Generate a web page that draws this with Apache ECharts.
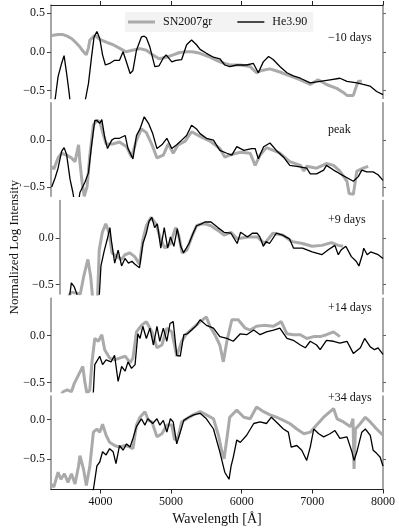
<!DOCTYPE html>
<html>
<head>
<meta charset="utf-8">
<script src="https://cdn.jsdelivr.net/npm/echarts@6/dist/echarts.min.js"></script>
<style>
html, body { margin: 0; padding: 0; background: #fff; }
#chart { width: 399px; height: 532px; }
</style>
</head>
<body>
<div id="chart"></div>
<script>
// spectra: [wavelength (A), normalized log intensity]
const sn_m10 = [[3310,0.21],[3400,0.22],[3470,0.22],[3530,0.2],[3590,0.17],[3650,0.12],[3710,0.06],[3760,0.0],[3800,-0.04],[3830,0.05],[3850,0.15],[3920,0.21],[3990,0.16],[4090,0.12],[4180,0.09],[4280,0.04],[4360,0.0],[4450,0.02],[4560,0.04],[4650,0.02],[4740,-0.04],[4830,-0.09],[4930,-0.07],[5030,-0.04],[5120,-0.01],[5220,0.0],[5300,0.0],[5410,-0.02],[5550,-0.07],[5690,-0.13],[5830,-0.17],[5980,-0.17],[6120,-0.19],[6210,-0.27],[6280,-0.24],[6400,-0.22],[6540,-0.26],[6680,-0.31],[6830,-0.36],[6970,-0.42],[7080,-0.36],[7200,-0.42],[7345,-0.47],[7450,-0.53],[7490,-0.56],[7580,-0.56],[7620,-0.45],[7650,-0.38],[7700,-0.38]];
const he_m10 = [[3310,-0.75],[3360,-0.6],[3400,-0.32],[3450,-0.15],[3485,-0.05],[3520,-0.27],[3560,-0.55],[3580,-0.75],[3760,-0.75],[3790,-0.6],[3830,-0.41],[3875,-0.06],[3910,0.19],[3950,0.26],[3990,0.17],[4030,-0.04],[4070,-0.17],[4130,-0.15],[4200,-0.11],[4270,-0.11],[4320,0.0],[4360,-0.11],[4420,-0.28],[4460,-0.24],[4510,0.02],[4580,0.19],[4620,0.2],[4650,0.18],[4700,0.06],[4770,-0.19],[4830,-0.18],[4890,-0.08],[4930,-0.04],[5010,-0.13],[5070,-0.11],[5150,-0.1],[5220,0.09],[5290,0.15],[5360,0.09],[5410,0.03],[5500,-0.02],[5600,-0.07],[5690,-0.09],[5760,-0.17],[5830,-0.19],[5930,-0.17],[6070,-0.17],[6165,-0.15],[6235,-0.27],[6305,-0.13],[6380,-0.06],[6445,-0.1],[6540,-0.19],[6640,-0.27],[6730,-0.31],[6830,-0.34],[6970,-0.4],[7110,-0.38],[7250,-0.36],[7390,-0.34],[7490,-0.38],[7630,-0.4],[7720,-0.42],[7815,-0.44],[7910,-0.51],[8000,-0.55]];

const sn_peak = [[3310,-0.28],[3340,-0.31],[3400,-0.19],[3450,-0.14],[3520,-0.16],[3590,-0.19],[3640,-0.23],[3690,-0.05],[3710,-0.24],[3740,-0.45],[3770,-0.6],[3810,-0.5],[3850,-0.16],[3900,0.16],[3950,0.21],[3990,0.2],[4030,0.09],[4080,-0.04],[4180,-0.04],[4270,-0.02],[4370,-0.07],[4440,-0.18],[4510,0.0],[4580,0.12],[4650,0.08],[4730,-0.05],[4800,-0.19],[4890,-0.16],[4960,-0.04],[5030,-0.14],[5100,-0.05],[5200,-0.01],[5290,0.09],[5410,0.04],[5550,-0.01],[5690,-0.09],[5760,-0.18],[5830,-0.16],[5980,-0.13],[6120,-0.14],[6190,-0.27],[6260,-0.16],[6350,-0.08],[6450,-0.11],[6540,-0.14],[6680,-0.23],[6830,-0.27],[6880,-0.33],[6920,-0.28],[7060,-0.3],[7200,-0.25],[7300,-0.27],[7390,-0.33],[7490,-0.44],[7520,-0.57],[7580,-0.58],[7630,-0.33],[7720,-0.3],[7790,-0.28]];
const he_peak = [[3310,-0.5],[3360,-0.4],[3400,-0.3],[3450,-0.12],[3485,-0.08],[3520,-0.15],[3570,-0.42],[3610,-0.56],[3640,-0.7],[3680,-0.7],[3710,-0.56],[3780,-0.45],[3830,-0.35],[3875,-0.05],[3920,0.21],[3950,0.21],[3990,0.18],[4020,0.22],[4060,0.03],[4100,-0.09],[4160,0.0],[4200,0.02],[4270,0.02],[4350,0.05],[4390,-0.09],[4460,-0.2],[4510,0.05],[4560,0.12],[4620,0.25],[4680,0.18],[4740,0.07],[4800,-0.09],[4870,-0.05],[4940,0.02],[5010,-0.09],[5080,-0.05],[5150,0.0],[5220,0.05],[5290,0.16],[5360,0.12],[5410,0.07],[5500,0.02],[5600,0.0],[5690,-0.11],[5790,-0.14],[5860,-0.16],[5930,-0.07],[6030,-0.11],[6140,-0.09],[6190,-0.09],[6235,-0.2],[6310,-0.07],[6400,-0.03],[6490,-0.11],[6590,-0.18],[6680,-0.27],[6780,-0.28],[6920,-0.3],[6970,-0.36],[7060,-0.36],[7160,-0.32],[7200,-0.27],[7300,-0.32],[7390,-0.36],[7510,-0.41],[7580,-0.44],[7650,-0.39],[7700,-0.32],[7770,-0.34],[7860,-0.34],[7930,-0.37],[8000,-0.43]];

const sn_p9 = [[3430,-0.62],[3470,-0.58],[3600,-0.6],[3650,-0.41],[3710,-0.23],[3750,-0.41],[3780,-0.65],[3850,-0.65],[3875,-0.13],[3920,0.06],[3970,0.15],[4020,0.05],[4060,-0.16],[4130,-0.2],[4200,-0.23],[4250,-0.18],[4320,-0.16],[4390,-0.2],[4460,-0.28],[4510,-0.02],[4560,0.13],[4630,0.22],[4700,0.15],[4770,-0.02],[4830,-0.11],[4910,-0.06],[4985,0.11],[5030,0.03],[5080,-0.16],[5150,-0.13],[5220,0.01],[5290,0.13],[5360,0.15],[5410,0.15],[5500,0.13],[5600,0.08],[5690,0.03],[5790,0.06],[5880,-0.01],[6030,0.01],[6170,0.01],[6280,-0.06],[6400,0.05],[6540,0.03],[6680,-0.04],[6830,-0.06],[6970,-0.09],[7110,-0.08],[7250,-0.05],[7350,-0.08],[7420,-0.09]];
const he_p9 = [[3440,-0.65],[3470,-0.48],[3510,-0.52],[3550,-0.6],[3580,-0.7],[3870,-0.7],[3900,-0.3],[3950,-0.13],[3990,-0.02],[4030,0.11],[4050,-0.02],[4100,-0.27],[4150,-0.13],[4200,-0.3],[4250,-0.22],[4300,-0.27],[4350,-0.25],[4390,-0.28],[4460,-0.32],[4510,-0.06],[4560,0.05],[4600,0.18],[4640,0.22],[4680,0.11],[4720,0.15],[4770,-0.11],[4820,0.11],[4870,-0.11],[4910,0.01],[4960,-0.09],[5010,0.1],[5060,-0.09],[5100,-0.16],[5180,-0.06],[5240,0.05],[5290,0.13],[5360,0.15],[5410,0.17],[5500,0.17],[5600,0.11],[5690,0.06],[5790,0.05],[5880,-0.06],[5930,0.06],[6030,0.01],[6100,0.05],[6170,0.05],[6210,0.01],[6260,-0.09],[6300,-0.04],[6350,-0.06],[6450,0.05],[6540,0.03],[6640,-0.01],[6700,-0.11],[6830,-0.11],[6970,-0.15],[7110,-0.18],[7200,-0.13],[7300,-0.08],[7350,-0.18],[7390,-0.13],[7460,-0.09],[7540,-0.2],[7610,-0.25],[7650,-0.3],[7700,-0.18],[7720,-0.11],[7770,-0.18],[7820,-0.15],[7860,-0.16],[7930,-0.18],[8000,-0.22]];

const sn_p14 = [[3430,-0.65],[3470,-0.6],[3530,-0.58],[3590,-0.6],[3630,-0.51],[3690,-0.42],[3750,-0.33],[3780,-0.5],[3810,-0.62],[3850,-0.58],[3880,-0.28],[3920,-0.03],[3970,-0.06],[4020,0.01],[4060,-0.15],[4130,-0.24],[4200,-0.26],[4270,-0.24],[4350,-0.22],[4420,-0.29],[4460,-0.24],[4510,0.04],[4580,0.11],[4650,0.15],[4730,0.04],[4800,-0.13],[4870,-0.1],[4940,0.08],[5010,0.04],[5080,-0.22],[5150,-0.06],[5220,0.02],[5310,0.08],[5410,0.15],[5500,0.2],[5550,0.1],[5620,0.01],[5690,-0.1],[5740,-0.28],[5790,-0.06],[5860,0.17],[5950,0.17],[6050,0.08],[6120,0.06],[6210,0.1],[6310,0.11],[6450,0.1],[6560,0.15],[6640,0.02],[6730,0.01],[6830,0.01],[6920,-0.03],[7020,-0.01],[7110,-0.01],[7200,0.01],[7300,0.04],[7390,-0.01]];
const he_p14 = [[3870,-0.7],[3900,-0.6],[3920,-0.31],[3990,-0.22],[4030,-0.31],[4080,-0.26],[4150,-0.28],[4200,-0.21],[4250,-0.49],[4300,-0.33],[4350,-0.38],[4390,-0.28],[4440,-0.35],[4490,-0.31],[4530,0.02],[4560,-0.03],[4600,0.1],[4650,-0.03],[4700,0.08],[4750,-0.1],[4800,0.1],[4840,-0.06],[4890,0.08],[4940,-0.06],[4985,0.13],[5030,0.15],[5080,-0.21],[5130,-0.22],[5180,0.01],[5230,0.02],[5290,0.06],[5360,0.11],[5410,0.17],[5500,0.11],[5600,0.08],[5690,-0.01],[5790,-0.03],[5880,-0.06],[5980,0.02],[6070,0.01],[6170,0.06],[6260,0.01],[6350,0.04],[6450,0.06],[6540,0.08],[6640,-0.03],[6730,-0.05],[6830,-0.1],[6900,-0.13],[6970,-0.06],[7060,-0.1],[7110,-0.15],[7200,-0.05],[7300,-0.06],[7390,-0.08],[7490,-0.06],[7580,-0.19],[7680,-0.13],[7740,-0.03],[7820,-0.12],[7880,-0.15],[7930,-0.13],[8000,-0.2]];

const sn_p34 = [[3310,-0.82],[3340,-0.86],[3400,-0.67],[3440,-0.76],[3490,-0.69],[3540,-0.8],[3590,-0.69],[3640,-0.82],[3690,-0.59],[3710,-0.46],[3760,-0.63],[3800,-0.84],[3850,-0.59],[3900,-0.16],[3950,-0.12],[3990,-0.16],[4030,-0.06],[4080,-0.2],[4130,-0.29],[4200,-0.33],[4270,-0.35],[4350,-0.33],[4420,-0.35],[4460,-0.37],[4510,-0.07],[4560,0.03],[4630,0.1],[4680,-0.01],[4730,-0.03],[4800,-0.22],[4870,-0.18],[4940,-0.07],[5010,-0.07],[5050,-0.26],[5100,-0.22],[5150,-0.03],[5220,0.01],[5310,0.06],[5410,0.1],[5500,0.06],[5600,0.01],[5670,-0.2],[5720,-0.41],[5750,-0.5],[5790,-0.24],[5830,0.03],[5930,0.12],[6030,0.03],[6120,0.01],[6210,0.16],[6310,0.1],[6400,0.06],[6490,0.03],[6590,-0.01],[6680,-0.05],[6780,-0.12],[6880,-0.18],[6970,-0.16],[7060,-0.07],[7160,0.03],[7250,0.1],[7300,0.14],[7350,0.01],[7440,-0.03],[7540,-0.09],[7575,0.01],[7590,-0.63],[7610,-0.12],[7680,-0.05],[7750,0.03],[7820,-0.03],[7910,-0.12],[8000,-0.2]];
const he_p34 = [[3880,-0.95],[3900,-0.89],[3950,-0.59],[3990,-0.54],[4030,-0.41],[4080,-0.45],[4130,-0.37],[4180,-0.41],[4220,-0.56],[4270,-0.33],[4320,-0.39],[4370,-0.31],[4420,-0.35],[4460,-0.24],[4510,-0.09],[4580,0.01],[4630,-0.07],[4670,0.01],[4740,-0.05],[4800,0.01],[4840,-0.07],[4890,-0.01],[4940,-0.16],[4990,0.01],[5030,-0.03],[5080,-0.31],[5130,-0.16],[5180,-0.01],[5250,0.03],[5320,0.06],[5410,0.08],[5500,0.01],[5600,-0.12],[5690,-0.41],[5760,-0.67],[5820,-0.76],[5850,-0.59],[5880,-0.48],[5930,-0.26],[5980,-0.29],[6070,-0.2],[6170,-0.05],[6260,-0.03],[6350,-0.05],[6420,0.03],[6490,-0.03],[6590,-0.12],[6660,-0.16],[6700,-0.35],[6780,-0.33],[6850,-0.39],[6920,-0.52],[6970,-0.35],[7020,-0.12],[7090,-0.18],[7160,-0.22],[7250,-0.18],[7320,-0.14],[7390,-0.24],[7490,-0.22],[7560,-0.41],[7590,-0.52],[7630,-0.41],[7700,-0.16],[7750,-0.12],[7820,-0.2],[7860,-0.39],[7910,-0.43],[7960,-0.48],[8000,-0.59]];

const snSets = [sn_m10, sn_peak, sn_p9, sn_p14, sn_p34];
const heSets = [he_m10, he_peak, he_p9, he_p14, he_p34];
const panelLabels = ['\u221210 days', 'peak', '+9 days', '+14 days', '+34 days'];
const yRanges = [[-0.6, 0.6], [-0.6, 0.4], [-0.6, 0.4], [-0.6, 0.4], [-0.89, 0.3]];
const yTicks = [[-0.5, 0, 0.5], [-0.5, 0], [-0.5, 0], [-0.5, 0], [-0.5, 0]];
const xTicks = [4000, 5000, 6000, 7000, 8000];

const FONT = 'Liberation Serif';
const dom = document.getElementById('chart');
const chart = echarts.init(dom, null, { renderer: 'canvas' });

const gridTops = [5, 102.75, 200.5, 298.25, 396];
const gridH = 93.5;
const labelTops = [32, 124, 214, 302, 392];

const fmtY = v => (v < 0 ? '\u2212' : '') + Math.abs(v).toFixed(1);

const grid = [], xAxis = [], yAxis = [], series = [], title = [];

gridTops.forEach((top, i) => {
    grid.push({ left: 51, width: 332, top: top, height: gridH });

    const isTop = i === 0, isBottom = i === 4;
    xAxis.push({
        type: 'value', gridIndex: i, min: 3300, max: 8000,
        position: isTop ? 'top' : 'bottom',
        axisLine: { show: isTop || isBottom, onZero: false, lineStyle: { color: '#222', width: 1 } },
        axisTick: { show: isTop || isBottom, inside: false, length: 4, customValues: xTicks, lineStyle: { color: '#222' } },
        axisLabel: { show: isBottom, customValues: xTicks, formatter: v => String(v), margin: 6, color: '#111', fontFamily: FONT, fontSize: 12 },
        splitLine: { show: false },
        name: isBottom ? 'Wavelength [\u00c5]' : '',
        nameLocation: 'middle', nameGap: 23,
        nameTextStyle: { fontFamily: FONT, fontSize: 14, color: '#111' }
    });

    const yr = yRanges[i];
    yAxis.push({
        type: 'value', gridIndex: i, min: yr[0], max: yr[1], position: 'left',
        axisLine: { show: true, onZero: false, lineStyle: { color: '#888', width: 1.5 } },
        axisTick: { show: true, length: 4, customValues: yTicks[i], lineStyle: { color: '#444' } },
        axisLabel: { customValues: yTicks[i], formatter: fmtY, margin: 6, color: '#111', fontFamily: FONT, fontSize: 12 },
        splitLine: { show: false },
        name: i === 2 ? 'Normalized Log Intensity' : '',
        nameLocation: 'middle', nameRotate: 90, nameGap: 38,
        nameTextStyle: { fontFamily: FONT, fontSize: 13, color: '#111' }
    });
    yAxis.push({
        type: 'value', gridIndex: i, min: yr[0], max: yr[1], position: 'right',
        axisLine: { show: true, onZero: false, lineStyle: { color: '#888', width: 1.5 } },
        axisTick: { show: true, length: 3, customValues: yTicks[i], lineStyle: { color: '#666' } },
        axisLabel: { show: false },
        splitLine: { show: false }
    });

    series.push({
        name: 'SN2007gr', type: 'line', xAxisIndex: i, yAxisIndex: 2 * i,
        data: snSets[i], symbol: 'none', z: 2, color: '#aaaaaa',
        lineStyle: { color: '#aaaaaa', width: 3 }
    });
    series.push({
        name: 'He3.90', type: 'line', xAxisIndex: i, yAxisIndex: 2 * i,
        data: heSets[i], symbol: 'none', z: 3, color: '#000',
        lineStyle: { color: '#000', width: 1.3 }
    });

    title.push({
        text: panelLabels[i], left: 328, top: labelTops[i], padding: 0,
        textStyle: { fontFamily: FONT, fontSize: 12, fontWeight: 'normal', color: '#111' }
    });
});

const option = {
    animation: false,
    backgroundColor: '#fff',
    title: title,
    legend: {
        data: [
            { name: 'SN2007gr', icon: 'path://M0,0 H27 V3 H0 Z', itemStyle: { color: '#aaaaaa' } },
            { name: 'He3.90', icon: 'path://M0,0 H27 V1.4 H0 Z', itemStyle: { color: '#000' } }
        ],
        symbolKeepAspect: true,
        left: 125, top: 12,
        padding: [4, 6, 4, 3],
        itemWidth: 27, itemHeight: 12, itemGap: 25,
        backgroundColor: '#f3f3f3',
        textStyle: { fontFamily: FONT, fontSize: 12, color: '#111', padding: [0, 0, 0, 3] }
    },
    grid: grid,
    xAxis: xAxis,
    yAxis: yAxis,
    series: series
};

chart.setOption(option);
window.addEventListener('resize', chart.resize);
</script>
</body>
</html>
